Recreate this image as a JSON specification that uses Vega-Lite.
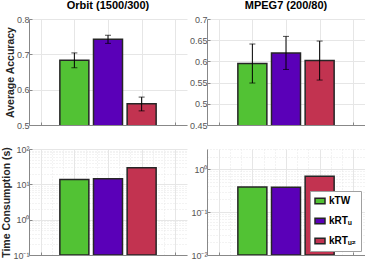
{
  "$schema": "https://vega.github.io/schema/vega-lite/v6.json",
  "padding": {"left": 1, "top": 0, "right": 0, "bottom": 0},
  "bounds": "flush",
  "columns": 2,
  "spacing": {"row": 24, "column": 20},
  "datasets": {
    "acc": [
      {"ds": "Orbit", "method": "kTW", "idx": 1, "acc": 0.683, "lo": 0.662, "hi": 0.704},
      {"ds": "Orbit", "method": "kRTᵤ", "idx": 2, "acc": 0.743, "lo": 0.731, "hi": 0.754},
      {"ds": "Orbit", "method": "kRTᵤ₂", "idx": 3, "acc": 0.560, "lo": 0.540, "hi": 0.579},
      {"ds": "MPEG7", "method": "kTW", "idx": 1, "acc": 0.595, "lo": 0.549, "hi": 0.641},
      {"ds": "MPEG7", "method": "kRTᵤ", "idx": 2, "acc": 0.620, "lo": 0.581, "hi": 0.659},
      {"ds": "MPEG7", "method": "kRTᵤ₂", "idx": 3, "acc": 0.602, "lo": 0.556, "hi": 0.648}
    ],
    "time": [
      {"ds": "Orbit", "method": "kTW", "idx": 1, "time": 13.6},
      {"ds": "Orbit", "method": "kRTᵤ", "idx": 2, "time": 14.5},
      {"ds": "Orbit", "method": "kRTᵤ₂", "idx": 3, "time": 29.4},
      {"ds": "MPEG7", "method": "kTW", "idx": 1, "time": 0.39},
      {"ds": "MPEG7", "method": "kRTᵤ", "idx": 2, "time": 0.385},
      {"ds": "MPEG7", "method": "kRTᵤ₂", "idx": 3, "time": 0.69}
    ]
  },
  "resolve": {"legend": {"color": "independent"}},
  "concat": [
    {
      "title": "Orbit (1500/300)",
      "width": 158, "height": 106,
      "data": {"name": "acc"},
      "transform": [{"filter": "datum.ds === 'Orbit'"}],
      "encoding": {
        "x": {"field": "idx", "type": "quantitative", "scale": {"domain": [-0.2, 4.2]},
              "axis": {"values": [0, 1, 2, 3, 4], "labels": false, "title": null, "tickSize": -3}},
        "y": {"type": "quantitative", "scale": {"domain": [0.5, 0.8], "zero": false},
              "axis": {"title": "Average Accuracy", "values": [0.5, 0.6, 0.7, 0.8], "format": ".1f", "tickSize": -3, "labelOverlap": false}}
      },
      "layer": [
        {"mark": {"type": "bar", "size": 29, "stroke": "#262626", "strokeWidth": 1.5, "clip": true},
         "encoding": {
           "y": {"field": "acc", "type": "quantitative"},
           "color": {"field": "method", "type": "nominal",
                     "scale": {"domain": ["kTW", "kRTᵤ", "kRTᵤ₂"], "range": ["#52c234", "#5a00b8", "#c23350"]},
                     "legend": null}
         }},
        {"mark": {"type": "rule", "color": "#000", "strokeWidth": 1},
         "encoding": {"y": {"field": "lo", "type": "quantitative"}, "y2": {"field": "hi"}}},
        {"mark": {"type": "tick", "orient": "horizontal", "color": "#000", "size": 6, "thickness": 1},
         "encoding": {"y": {"field": "lo", "type": "quantitative"}}},
        {"mark": {"type": "tick", "orient": "horizontal", "color": "#000", "size": 6, "thickness": 1},
         "encoding": {"y": {"field": "hi", "type": "quantitative"}}}
      ]
    },
    {
      "title": "MPEG7 (200/80)",
      "width": 158, "height": 106,
      "data": {"name": "acc"},
      "transform": [{"filter": "datum.ds === 'MPEG7'"}],
      "encoding": {
        "x": {"field": "idx", "type": "quantitative", "scale": {"domain": [-0.2, 4.2]},
              "axis": {"values": [0, 1, 2, 3, 4], "labels": false, "title": null, "tickSize": -3}},
        "y": {"type": "quantitative", "scale": {"domain": [0.45, 0.7], "zero": false},
              "axis": {"title": null, "values": [0.45, 0.5, 0.55, 0.6, 0.65, 0.7], "labelExpr": "format(datum.value, '.2~f')", "tickSize": -3, "labelOverlap": false}}
      },
      "layer": [
        {"mark": {"type": "bar", "size": 29, "stroke": "#262626", "strokeWidth": 1.5, "clip": true},
         "encoding": {
           "y": {"field": "acc", "type": "quantitative"},
           "color": {"field": "method", "type": "nominal",
                     "scale": {"domain": ["kTW", "kRTᵤ", "kRTᵤ₂"], "range": ["#52c234", "#5a00b8", "#c23350"]},
                     "legend": null}
         }},
        {"mark": {"type": "rule", "color": "#000", "strokeWidth": 1},
         "encoding": {"y": {"field": "lo", "type": "quantitative"}, "y2": {"field": "hi"}}},
        {"mark": {"type": "tick", "orient": "horizontal", "color": "#000", "size": 6, "thickness": 1},
         "encoding": {"y": {"field": "lo", "type": "quantitative"}}},
        {"mark": {"type": "tick", "orient": "horizontal", "color": "#000", "size": 6, "thickness": 1},
         "encoding": {"y": {"field": "hi", "type": "quantitative"}}}
      ]
    },
    {
      "width": 158, "height": 106,
      "data": {"name": "time"},
      "transform": [{"filter": "datum.ds === 'Orbit'"}],
      "mark": {"type": "bar", "size": 29, "stroke": "#262626", "strokeWidth": 1.5, "clip": true},
      "encoding": {
        "x": {"field": "idx", "type": "quantitative", "scale": {"domain": [-0.2, 4.2]},
              "axis": {"values": [0, 0.3333, 0.6667, 1, 1.3333, 1.6667, 2, 2.3333, 2.6667, 3, 3.3333, 3.6667, 4],
                       "labels": false, "title": null, "tickSize": -3,
                       "tickOpacity": {"condition": {"test": "abs(datum.value - round(datum.value)) < 0.01", "value": 1}, "value": 0},
                       "gridDash": {"condition": {"test": "abs(datum.value - round(datum.value)) < 0.01", "value": []}, "value": [1, 2]}}},
        "y": {"field": "time", "type": "quantitative", "scale": {"type": "log", "domain": [0.1, 100]},
              "axis": {"title": "Time Consumption (s)", "labelOverlap": false,
                       "values": [0.1, 0.2, 0.3, 0.4, 0.5, 0.6, 0.7, 0.8, 0.9, 1, 2, 3, 4, 5, 6, 7, 8, 9, 10, 20, 30, 40, 50, 60, 70, 80, 90, 100],
                       "labelExpr": "datum.value == 0.1 ? '10⁻¹' : datum.value == 1 ? '10⁰' : datum.value == 10 ? '10¹' : datum.value == 100 ? '10²' : ''",
                       "tickSize": -3,
                       "tickOpacity": {"condition": {"test": "datum.value == 0.1 || datum.value == 1 || datum.value == 10 || datum.value == 100", "value": 1}, "value": 0},
                       "gridDash": {"condition": {"test": "datum.value == 0.1 || datum.value == 1 || datum.value == 10 || datum.value == 100", "value": []}, "value": [1, 2]}}},
        "y2": {"datum": 0.1},
        "color": {"field": "method", "type": "nominal",
                  "scale": {"domain": ["kTW", "kRTᵤ", "kRTᵤ₂"], "range": ["#52c234", "#5a00b8", "#c23350"]},
                  "legend": null}
      }
    },
    {
      "width": 158, "height": 106,
      "data": {"name": "time"},
      "transform": [{"filter": "datum.ds === 'MPEG7'"}],
      "mark": {"type": "bar", "size": 29, "stroke": "#262626", "strokeWidth": 1.5, "clip": true},
      "encoding": {
        "x": {"field": "idx", "type": "quantitative", "scale": {"domain": [-0.2, 4.2]},
              "axis": {"values": [0, 0.3333, 0.6667, 1, 1.3333, 1.6667, 2, 2.3333, 2.6667, 3, 3.3333, 3.6667, 4],
                       "labels": false, "title": null, "tickSize": -3,
                       "tickOpacity": {"condition": {"test": "abs(datum.value - round(datum.value)) < 0.01", "value": 1}, "value": 0},
                       "gridDash": {"condition": {"test": "abs(datum.value - round(datum.value)) < 0.01", "value": []}, "value": [1, 2]}}},
        "y": {"field": "time", "type": "quantitative", "scale": {"type": "log", "domain": [0.01, 3]},
              "axis": {"title": null, "labelOverlap": false,
                       "values": [0.01, 0.02, 0.03, 0.04, 0.05, 0.06, 0.07, 0.08, 0.09, 0.1, 0.2, 0.3, 0.4, 0.5, 0.6, 0.7, 0.8, 0.9, 1, 2, 3],
                       "labelExpr": "datum.value == 0.01 ? '10⁻²' : datum.value == 0.1 ? '10⁻¹' : datum.value == 1 ? '10⁰' : ''",
                       "tickSize": -3,
                       "tickOpacity": {"condition": {"test": "datum.value == 0.01 || datum.value == 0.1 || datum.value == 1", "value": 1}, "value": 0},
                       "gridDash": {"condition": {"test": "datum.value == 0.01 || datum.value == 0.1 || datum.value == 1", "value": []}, "value": [1, 2]}}},
        "y2": {"datum": 0.01},
        "color": {"field": "method", "type": "nominal",
                  "scale": {"domain": ["kTW", "kRTᵤ", "kRTᵤ₂"], "range": ["#52c234", "#5a00b8", "#c23350"]},
                  "legend": {"orient": "bottom-right", "offset": 4, "title": null,
                             "symbolType": "M-1,-0.55H1V0.55H-1Z", "symbolSize": 100,
                             "symbolStrokeColor": "#262626", "symbolStrokeWidth": 1.5, "symbolOpacity": 1,
                             "labelFont": "Liberation Sans", "labelFontSize": 10, "labelFontWeight": "bold", "labelColor": "#000",
                             "strokeColor": "#a0a0a0", "fillColor": "#ffffff", "padding": 4, "rowPadding": 8, "labelOffset": 3}}
      }
    }
  ],
  "config": {
    "view": {"stroke": null},
    "axis": {"labelFont": "Liberation Sans", "labelFontSize": 9, "labelColor": "#555555", "labelOverlap": false, "labelPadding": 3,
             "titleFont": "Liberation Sans", "titleFontSize": 10.5, "titleFontWeight": "bold", "titleColor": "#262626", "titlePadding": 1,
             "domainColor": "#888888", "tickColor": "#888888", "gridColor": "#e6e6e6", "grid": true},
    "title": {"font": "Liberation Sans", "fontSize": 11, "fontWeight": "bold", "color": "#000000", "offset": 0}
  }
}
